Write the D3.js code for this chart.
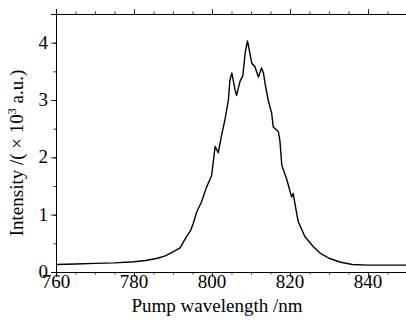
<!DOCTYPE html>
<html>
<head>
<meta charset="utf-8">
<script src="https://cdnjs.cloudflare.com/ajax/libs/d3/7.8.5/d3.min.js"></script>
</head>
<body style="margin:0">
<script>
// data
var wavelength = [760, 765, 770, 775, 780, 783, 786, 788, 790, 791.8, 793.5, 794.5, 795.2, 796.1,
  797.3, 798.6, 799.9, 800.8, 801.6, 802.5, 803.3, 804.2, 804.6, 805.1, 805.9, 806.3, 807.2,
  807.9, 808.5, 809.1, 809.7, 810.2, 811.0, 811.9, 812.7, 813.2, 813.6, 814.4, 815.3, 815.7,
  817.0, 817.4, 817.9, 819.2, 820.4, 820.8, 822.1, 823.8, 826, 827.7, 830, 833, 836, 840, 845, 850];
var intensity = [0.13, 0.14, 0.15, 0.16, 0.18, 0.20, 0.24, 0.28, 0.35, 0.42, 0.62, 0.72, 0.85, 1.05,
  1.22, 1.48, 1.68, 2.19, 2.08, 2.40, 2.65, 3.0, 3.35, 3.47, 3.18, 3.08, 3.33,
  3.42, 3.82, 4.03, 3.82, 3.64, 3.58, 3.40, 3.56, 3.47, 3.29, 3.0, 2.77, 2.53,
  2.45, 2.30, 1.86, 1.61, 1.31, 1.37, 0.88, 0.62, 0.44, 0.33, 0.24, 0.17, 0.13, 0.12, 0.12, 0.12];
var xTicks = [760, 780, 800, 820, 840];
var yTicks = [0, 1, 2, 3, 4];

var chart_width = 406;
var chart_height = 320;
var margin = { left: 56, top: 14, bottom: 272 };
var fontName = 'Times New Roman';

var x_scale = d3.scaleLinear().domain([760, 850]).range([margin.left, margin.left + 90 * 3.9]);
var y_scale = d3.scaleLinear().domain([0, 4.5]).range([margin.bottom, margin.top]);

var svg = d3.select('body')
  .append('svg')
  .attr('width', chart_width)
  .attr('height', chart_height)
  .style('font-family', fontName);

var points = wavelength.map(function (w, i) {
  return { w: w, v: intensity[i] };
});

// minor ticks, no labels
var minorX = d3.range(760, 851, 5);
var minorY = d3.range(0, 4.51, 0.5);

var axes = svg.append('g').attr('class', 'axes');
axes.append('g')
  .attr('transform', 'translate(0,' + margin.bottom + ')')
  .call(d3.axisBottom(x_scale).tickValues(minorX).tickSize(2.5).tickFormat(''));
axes.append('g')
  .attr('transform', 'translate(0,' + margin.bottom + ')')
  .call(d3.axisBottom(x_scale).tickValues(xTicks).tickSize(5).tickFormat(''));
axes.append('g')
  .attr('transform', 'translate(0,' + margin.top + ')')
  .call(d3.axisTop(x_scale).tickValues(minorX).tickSize(2.5).tickFormat(''));
axes.append('g')
  .attr('transform', 'translate(0,' + margin.top + ')')
  .call(d3.axisTop(x_scale).tickValues(xTicks).tickSize(5).tickFormat(''));
axes.append('g')
  .attr('transform', 'translate(' + margin.left + ',0)')
  .call(d3.axisLeft(y_scale).tickValues(minorY).tickSize(2.5).tickFormat(''));
axes.append('g')
  .attr('transform', 'translate(' + margin.left + ',0)')
  .call(d3.axisLeft(y_scale).tickValues(yTicks).tickSize(5).tickFormat(''));

axes.selectAll('.domain').attr('stroke', '#000').attr('stroke-width', 1);
axes.selectAll('.tick line').attr('stroke', '#000').attr('stroke-width', 0.8);

// labels live in their own group, outside the axis groups
var labels = svg.append('g')
  .attr('class', 'labels')
  .style('font-family', fontName)
  .style('font-size', '19px');

labels.selectAll('.xlab')
  .data(xTicks)
  .enter()
  .append('text')
  .attr('class', 'xlab')
  .attr('x', function (d) { return x_scale(d); })
  .attr('y', margin.bottom + 16)
  .attr('text-anchor', 'middle')
  .text(function (d) { return d; });

labels.selectAll('.ylab')
  .data(yTicks)
  .enter()
  .append('text')
  .attr('class', 'ylab')
  .attr('x', margin.left - 8)
  .attr('y', function (d) { return y_scale(d) + 6; })
  .attr('text-anchor', 'end')
  .text(function (d) { return d; });

// spectrum line
var line = d3.line()
  .x(function (d) { return x_scale(d.w); })
  .y(function (d) { return y_scale(d.v); });

svg.append('path')
  .datum(points)
  .attr('fill', 'none')
  .attr('stroke', '#000')
  .attr('stroke-width', 1.4)
  .attr('stroke-linejoin', 'round')
  .attr('d', line);

// axis titles
labels.append('text')
  .attr('x', 217)
  .attr('y', 312)
  .attr('text-anchor', 'middle')
  .text('Pump wavelength /nm');

var yTitle = labels.append('text')
  .attr('transform', 'translate(23,153) rotate(-90)')
  .attr('text-anchor', 'middle');
yTitle.append('tspan').text('Intensity /( \u00d7 10');
yTitle.append('tspan').attr('dy', -7).style('font-size', '12px').text('3');
yTitle.append('tspan').attr('dy', 7).text(' a.u.)');
</script>
</body>
</html>
